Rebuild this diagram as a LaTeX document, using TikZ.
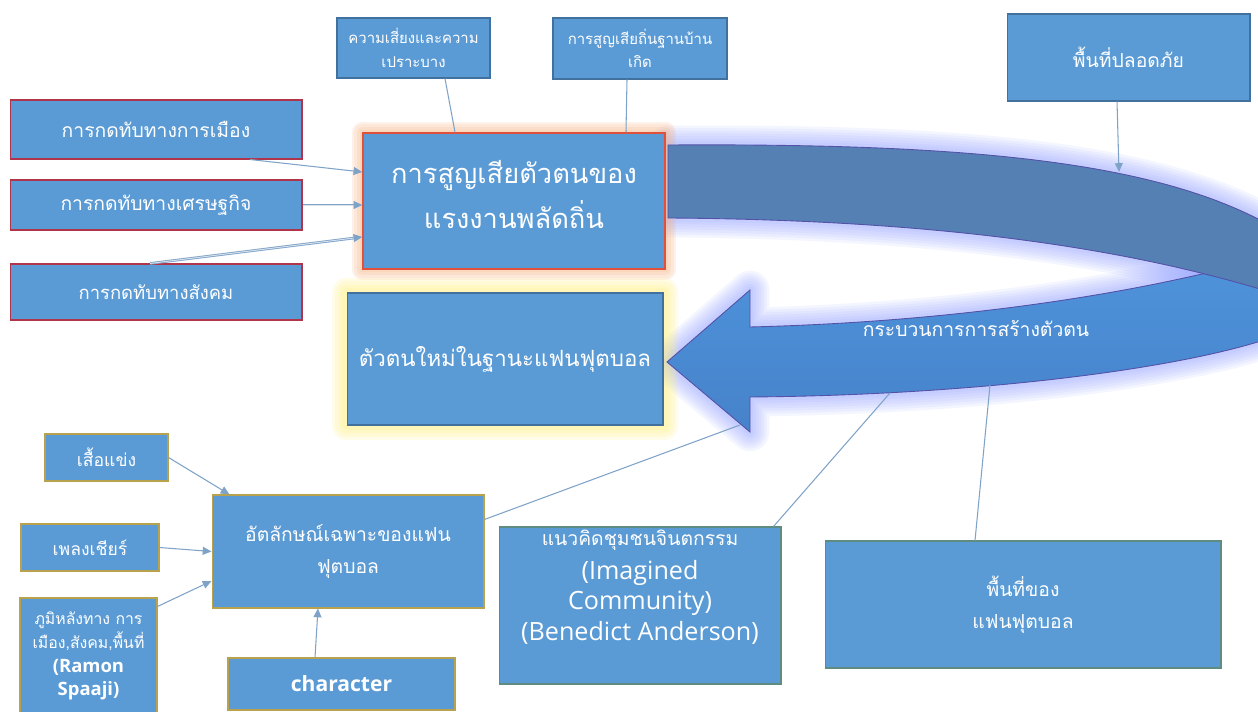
\documentclass[tikz,border=0pt]{standalone}
\usepackage{fontspec}
\usetikzlibrary{arrows.meta,calc}
\newfontfamily\thai[Script=Thai]{Loma}
\newfontfamily\osans{Open Sans}
\definecolor{boxfill}{HTML}{5B9BD5}
\definecolor{boxborder}{HTML}{41719C}
\definecolor{redborder}{HTML}{B0344A}
\definecolor{mainborder}{HTML}{E0503A}
\definecolor{goldborder}{HTML}{B9A24E}
\definecolor{grayborder}{HTML}{5F8C80}
\definecolor{linec}{HTML}{7FA3C8}
\definecolor{backc}{HTML}{5480B3}
\definecolor{frontt}{HTML}{4F95DC}
\definecolor{frontb}{HTML}{4682CA}
\definecolor{outlinec}{HTML}{5550A8}
\definecolor{blueglow}{HTML}{8E9CFF}
\definecolor{orangeglow}{HTML}{F7A86E}
\definecolor{yellowglow}{HTML}{FFF176}
\pgfdeclarelayer{bg}
\pgfdeclarelayer{glow}
\pgfdeclarelayer{arrowlayer}
\pgfsetlayers{bg,glow,arrowlayer,main}
\def\backp{(668,145) .. controls (1000,143) and (1200,165) .. (1310,252) -- (1310,305) .. controls (1150,250) and (950,220) .. (668,218) -- cycle}
\def\frontp{(750,327) .. controls (950,322) and (1150,295) .. (1310,245) -- (1310,320) .. controls (1250,360) and (1010,395) .. (750,397) -- (750,432) -- (667,362) -- (750,290) -- cycle}
\begin{document}
\begin{tikzpicture}[x=0.02cm,y=-0.02cm,
  box/.style={draw=boxborder, fill=boxfill, line width=0.6pt, text=white, align=center, inner sep=2pt},
  redbox/.style={box, draw=redborder},
  goldbox/.style={box, draw=goldborder},
  graybox/.style={box, draw=grayborder},
  txt/.style={text=white, align=center, inner sep=0pt},
  conn/.style={draw=linec, line width=0.6pt},
  arr/.style={conn, -{Triangle[length=5pt,width=4.5pt]}},
  dbl/.style={arr, double=white!70!linec, double distance=0.5pt, line width=0.5pt}
]
\useasboundingbox (0,0) rectangle (1258,712);
\begin{pgfonlayer}{bg}
  \fill[white] (0,0) rectangle (1258,712);
\end{pgfonlayer}

% curved arrow with soft glow
\begin{pgfonlayer}{glow}
  \foreach \w in {22,19,16,13,10,7,4}{
    \draw[blueglow, line width=\w pt, opacity=0.09, line join=round] \frontp;
    \draw[blueglow, line width=\w pt, opacity=0.09, line join=round] \backp;
  }
\end{pgfonlayer}
\begin{pgfonlayer}{arrowlayer}
  \shade[top color=frontt, bottom color=frontb, draw=outlinec, line width=0.5pt] \frontp;
  \fill[backc, draw=outlinec, line width=0.5pt] \backp;
\end{pgfonlayer}
\node[txt, font=\thai\fontsize{11}{14}\selectfont] (lab) at (976,328) {กระบวนการการสร้างตัวตน};

% top boxes
\node[box, minimum width=3.06cm, minimum height=1.2cm, font=\thai\fontsize{8.5}{13.5}\selectfont] (B1) at (413.5,48) {ความเสี่ยงและความ\\เปราะบาง};
\node[box, minimum width=3.48cm, minimum height=1.22cm, font=\thai\fontsize{8.5}{13.5}\selectfont] (B2) at (640,48.5) {การสูญเสียถิ่นฐานบ้าน\\เกิด};
\node[box, minimum width=4.86cm, minimum height=1.74cm, font=\thai\fontsize{11}{14}\selectfont] (B3) at (1128.5,57.5) {พื้นที่ปลอดภัย};

% left boxes
\node[redbox, minimum width=5.84cm, minimum height=1.18cm, font=\thai\fontsize{11}{14}\selectfont] (L1) at (156,129.5) {การกดทับทางการเมือง};
\node[redbox, minimum width=5.84cm, minimum height=1.0cm, font=\thai\fontsize{11}{14}\selectfont] (L2) at (156,205) {การกดทับทางเศรษฐกิจ};
\node[redbox, minimum width=5.84cm, minimum height=1.12cm, font=\thai\fontsize{10.5}{14}\selectfont] (L3) at (156,292) {การกดทับทางสังคม};

% main boxes
\node[box, draw=mainborder, line width=0.8pt, minimum width=6.04cm, minimum height=2.72cm] (Main) at (514,201) {};
\node[txt, font=\thai\fontsize{15.5}{25.5}\selectfont] (Maint) at ([yshift=3.5pt]Main.center) {การสูญเสียตัวตนของ\\แรงงานพลัดถิ่น};
\node[box, minimum width=6.32cm, minimum height=2.64cm, font=\thai\fontsize{12.7}{18}\selectfont] (New) at (505,359) {ตัวตนใหม่ในฐานะแฟนฟุตบอล};
\begin{pgfonlayer}{glow}
  \foreach \w in {12,9,6,3}{
    \draw[orangeglow, line width=\w pt, opacity=0.14, line join=round] (Main.south west) rectangle (Main.north east);
  }
  \foreach \w in {17,13,9,5}{
    \draw[yellowglow, line width=\w pt, opacity=0.16, line join=round] (New.south west) rectangle (New.north east);
  }
\end{pgfonlayer}

% bottom-left boxes
\node[goldbox, minimum width=2.46cm, minimum height=0.94cm, font=\thai\fontsize{10}{13}\selectfont] (S1) at (106.5,457.5) {เสื้อแข่ง};
\node[goldbox, minimum width=2.76cm, minimum height=0.94cm, font=\thai\fontsize{10}{13}\selectfont] (S2) at (90,547.5) {เพลงเชียร์};
\node[goldbox, minimum width=2.74cm, minimum height=2.32cm, inner sep=1pt, font=\thai\fontsize{9}{13.6}\selectfont] (S3) at (88.5,656)
  {ภูมิหลังทาง การ\\เมือง,สังคม,พื้นที่\\\osans\bfseries\fontsize{10.5}{13.6}\selectfont (Ramon\\\osans\bfseries\fontsize{10.5}{13.6}\selectfont Spaaji)};
\node[goldbox, minimum width=5.44cm, minimum height=2.26cm, font=\thai\fontsize{11}{18}\selectfont] (ID) at (348,551.5) {อัตลักษณ์เฉพาะของแฟน\\ฟุตบอล};
\node[goldbox, minimum width=4.54cm, minimum height=1.04cm, font=\osans\bfseries\fontsize{12}{14}\selectfont] (C) at (341.5,684) {character};

% bottom-right boxes
\node[graybox, minimum width=5.64cm, minimum height=3.14cm] (IC) at (640,605.5) {};
\node[txt, anchor=north, font=\osans\fontsize{14.3}{17.4}\selectfont] (ICt) at ([yshift=-2pt]IC.north)
  {\thai\fontsize{11}{17.4}\selectfont แนวคิดชุมชนจินตกรรม\\[1.5pt](Imagined\\Community)\\(Benedict Anderson)};
\node[graybox, minimum width=7.92cm, minimum height=2.54cm, font=\thai\fontsize{11}{18}\selectfont] (FS) at (1023,604.5) {พื้นที่ของ\\แฟนฟุตบอล};

% free ends on the curved arrow
\coordinate (bandtop) at (1119,172);
\coordinate (headbot) at (740,425);
\coordinate (bandA) at (890,393);
\coordinate (bandB) at (990,385);

% connectors
\draw[conn] ([xshift=0.63cm]B1.south) -- ([xshift=-1.18cm]Main.north);
\draw[conn] ([xshift=-0.26cm]B2.south) -- ([xshift=2.24cm]Main.north);
\draw[arr] ([xshift=-0.23cm]B3.south) -- (bandtop);
\draw[arr] ([xshift=1.88cm]L1.south) -- ([yshift=0.58cm]Main.west);
\draw[dbl] (L2.east) -- (L2.east -| Main.west);
\draw[dbl] ([xshift=-0.12cm]L3.north) -- ([yshift=-0.72cm]Main.west);
\draw[arr] (S1.east) -- ([xshift=0.36cm]ID.north west);
\draw[arr] (S2.east) -- (ID.west);
\draw[arr] ([yshift=-0.18cm]S3.north east) -- ([yshift=-0.59cm]ID.west);
\draw[arr] ([xshift=-0.53cm]C.north) -- ([xshift=-0.6cm]ID.south);
\draw[conn] ([yshift=-0.5cm]ID.north east) -- (headbot);
\draw[conn] ([xshift=-0.16cm]IC.north east) -- (bandA);
\draw[conn] ([xshift=-0.96cm]FS.north) -- (bandB);
\end{tikzpicture}
\end{document}
